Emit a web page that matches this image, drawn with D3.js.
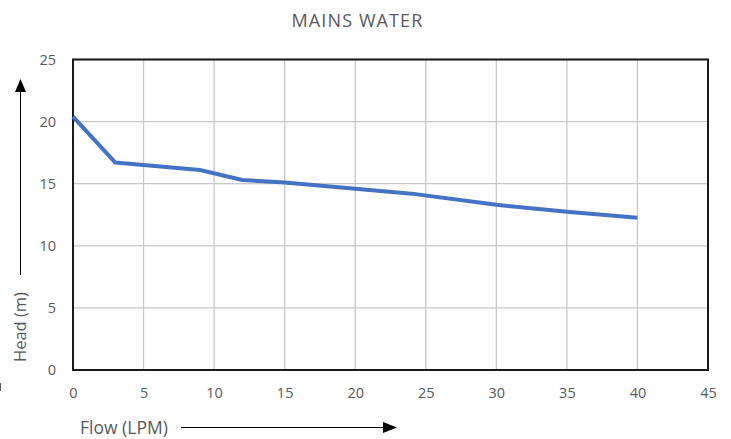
<!DOCTYPE html>
<html><head><meta charset="utf-8">
<script src="https://cdn.jsdelivr.net/npm/d3@7"></script>
<style>body{margin:0;background:#fff;}svg{display:block;}</style>
</head><body>
<svg id="c" width="731" height="439"></svg>
<script>
const flow = [0, 3, 9, 12, 15, 21, 24, 30, 35, 40];
const head = [20.4, 16.7, 16.1, 15.3, 15.1, 14.5, 14.2, 13.3, 12.75, 12.25];
const xTicks = [0, 5, 10, 15, 20, 25, 30, 35, 40, 45];
const yTicks = [0, 5, 10, 15, 20, 25];
const title = "MAINS WATER";
const xLabel = "Flow (LPM)";
const yLabel = "Head (m)";

const svg = d3.select("#c");
const L = 73, R = 708, T = 59.5, B = 370;
const x = d3.scaleLinear().domain([0, 45]).range([L, R]);
const y = d3.scaleLinear().domain([0, 25]).range([B, T]);
const font = "'Open Sans', 'Noto Sans', sans-serif";
const grey = "#595959";

// gridlines
svg.append("g").selectAll("line").data(xTicks).join("line")
  .attr("x1", d => x(d)).attr("x2", d => x(d)).attr("y1", T).attr("y2", B)
  .attr("stroke", "#c8c8c8").attr("stroke-width", 1.3);
svg.append("g").selectAll("line").data(yTicks).join("line")
  .attr("y1", d => y(d)).attr("y2", d => y(d)).attr("x1", L).attr("x2", R)
  .attr("stroke", "#c8c8c8").attr("stroke-width", 1.3);

// border
svg.append("rect").attr("x", L).attr("y", T).attr("width", R - L).attr("height", B - T)
  .attr("fill", "none").attr("stroke", "#1a1a1a").attr("stroke-width", 2);

// axes labels via d3 axes
const xAxis = svg.append("g").attr("transform", `translate(0,${B})`)
  .call(d3.axisBottom(x).tickValues(xTicks).tickSize(0).tickPadding(18));
const yAxis = svg.append("g").attr("transform", `translate(${L},0)`)
  .call(d3.axisLeft(y).tickValues(yTicks).tickSize(0).tickPadding(17));
[xAxis, yAxis].forEach(g => {
  g.select(".domain").remove();
  g.selectAll("text").attr("fill", grey).style("font-family", font).style("font-size", "14.5px");
});

// line
svg.append("path").datum(flow.map((f, i) => [f, head[i]]))
  .attr("d", d3.line().x(d => x(d[0])).y(d => y(d[1])))
  .attr("fill", "none").attr("stroke", "#4472C4").attr("stroke-width", 4)
  .attr("stroke-linejoin", "round");

// title
svg.append("text").attr("x", 357.5).attr("y", 27).attr("text-anchor", "middle")
  .attr("fill", grey).style("font-family", font).style("font-size", "18px")
  .style("letter-spacing", "1.1px").text(title);

// x label + arrow
svg.append("text").attr("x", 80).attr("y", 434).attr("fill", grey)
  .style("font-family", font).style("font-size", "17.5px").text(xLabel);
svg.append("line").attr("x1", 181).attr("x2", 384).attr("y1", 427.5).attr("y2", 427.5)
  .attr("stroke", "#000").attr("stroke-width", 1);
svg.append("path").attr("d", "M383,422 L397,427.5 L383,433 Z").attr("fill", "#000");

// y label + arrow
svg.append("text").attr("transform", "translate(26,327) rotate(-90)").attr("text-anchor", "middle")
  .attr("fill", grey).style("font-family", font).style("font-size", "16.5px").text(yLabel);
svg.append("line").attr("x1", 20.5).attr("x2", 20.5).attr("y1", 91).attr("y2", 275)
  .attr("stroke", "#000").attr("stroke-width", 1);
svg.append("path").attr("d", "M15,92 L20.5,79 L26,92 Z").attr("fill", "#000");

// small stray mark at left edge
svg.append("line").attr("x1", 0.5).attr("x2", 0.5).attr("y1", 383).attr("y2", 391)
  .attr("stroke", grey).attr("stroke-width", 1);
</script>
</body></html>
